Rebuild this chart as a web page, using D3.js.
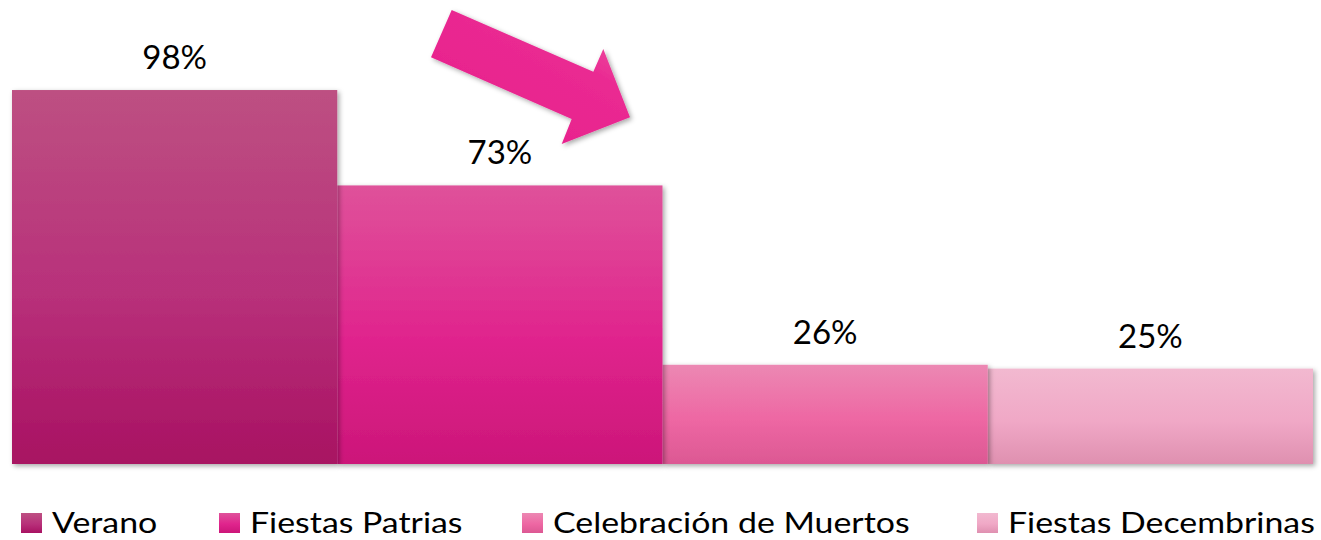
<!DOCTYPE html>
<html lang="en">
<head>
<meta charset="utf-8">
<title>Temporadas</title>
<script src="https://cdn.jsdelivr.net/npm/d3@7"></script>
<style>
  body { margin: 0; background: #fff; font-family: "Lato", "Open Sans", sans-serif; }
</style>
</head>
<body>
<script>
// values
var categories = ["Verano", "Fiestas Patrias", "Celebración de Muertos", "Fiestas Decembrinas"];
var values = [0.98, 0.73, 0.26, 0.25];
var labels = ["98%", "73%", "26%", "25%"];
// gradient stops (top, middle, bottom) per bar
var colors = [
    ["#bd5082", "#b8307a", "#a81262"],
    ["#df529a", "#e0248d", "#cc1679"],
    ["#ec88b3", "#ee67a3", "#dc5893"],
    ["#f2b9d0", "#f0a8c6", "#df90b0"]
];
var legendX = [21, 219, 522, 977];

var width = 1321, height = 540;

var svg = d3.select("body").append("svg")
    .attr("width", width)
    .attr("height", height);

var defs = svg.append("defs");

var shadow = defs.append("filter").attr("id", "shadow")
    .attr("x", "-5%").attr("y", "-5%").attr("width", "115%").attr("height", "115%");
shadow.append("feDropShadow")
    .attr("dx", 2).attr("dy", 2).attr("stdDeviation", 2.5)
    .attr("flood-color", "#000").attr("flood-opacity", 0.35);

colors.forEach(function(c, i) {
    var g = defs.append("linearGradient").attr("id", "grad" + i)
        .attr("x1", 0).attr("y1", 0).attr("x2", 0).attr("y2", 1);
    g.append("stop").attr("offset", "0%").attr("stop-color", c[0]);
    g.append("stop").attr("offset", "55%").attr("stop-color", c[1]);
    g.append("stop").attr("offset", "100%").attr("stop-color", c[2]);
});

var arrowGrad = defs.append("linearGradient").attr("id", "arrowGrad")
    .attr("x1", 1).attr("y1", 0).attr("x2", 0.3).attr("y2", 0.8);
arrowGrad.append("stop").attr("offset", "0%").attr("stop-color", "#ef62a8");
arrowGrad.append("stop").attr("offset", "45%").attr("stop-color", "#ea2a92");
arrowGrad.append("stop").attr("offset", "100%").attr("stop-color", "#e8228d");

var x = d3.scaleBand()
    .domain(categories)
    .range([12, 1313])
    .padding(0);

var y = d3.scaleLinear()
    .domain([0, 1])
    .range([464, 82.4]);

var data = categories.map(function(c, i) {
    return { name: c, value: values[i], label: labels[i], i: i };
});

// bars, drawn right to left so the shadows fall on the right neighbour like the original
svg.append("g").selectAll("rect")
    .data(data.slice().reverse())
    .enter()
    .append("rect")
    .attr("x", function(d) { return x(d.name); })
    .attr("y", function(d) { return y(d.value); })
    .attr("width", x.bandwidth())
    .attr("height", function(d) { return y(0) - y(d.value); })
    .attr("fill", function(d) { return "url(#grad" + d.i + ")"; })
    .attr("filter", "url(#shadow)");

svg.append("g").selectAll("text")
    .data(data)
    .enter()
    .append("text")
    .attr("x", function(d) { return x(d.name) + x.bandwidth() / 2; })
    .attr("y", function(d) { return y(d.value) - 21; })
    .attr("text-anchor", "middle")
    .attr("font-size", 33)
    .attr("fill", "#000")
    .text(function(d) { return d.label; });

// the big arrow
svg.append("path")
    .attr("d", "M451.7,10 L593.3,71.7 L603.3,49 L630,117.3 L561.7,144 L571.7,119 L431,57.3 Z")
    .attr("fill", "url(#arrowGrad)")
    .attr("filter", "url(#shadow)");

// legend (the original text is a little stretched sideways)
var legend = svg.append("g").selectAll("g")
    .data(data)
    .enter()
    .append("g")
    .attr("transform", function(d) { return "translate(" + legendX[d.i] + ",513)"; });

legend.append("rect")
    .attr("width", 21)
    .attr("height", 20)
    .attr("fill", function(d) { return "url(#grad" + d.i + ")"; });

legend.append("text")
    .attr("transform", "translate(31,20) scale(1.21,1)")
    .attr("font-size", 28)
    .attr("fill", "#000")
    .text(function(d) { return d.name; });
</script>
</body>
</html>
